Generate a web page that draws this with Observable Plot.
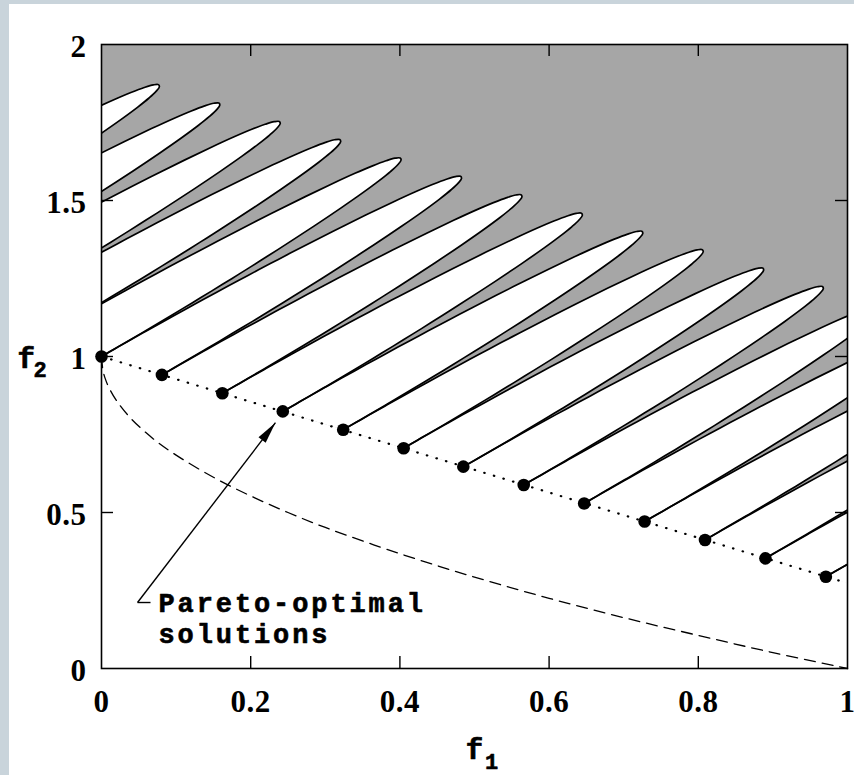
<!DOCTYPE html>
<html><head><meta charset="utf-8">
<script src="https://cdn.jsdelivr.net/npm/d3@7"></script>
<script src="https://cdn.jsdelivr.net/npm/@observablehq/plot@0.6"></script>
<style>
html,body{margin:0;padding:0;background:#c9d4db;width:854px;height:775px;overflow:hidden;}
#chart{position:absolute;left:9px;top:4px;width:845px;height:771px;background:#fff;}
#chart svg{background:#fff;}
g.annot text{letter-spacing:2.9px;}
g.ticklab text{letter-spacing:0.5px;}
</style></head><body><div id="chart"></div>
<script>
// Pareto-optimal points (black dots)
const paretoF1 = [0, 0.081, 0.162, 0.243, 0.324, 0.405, 0.485, 0.566, 0.647, 0.728, 0.809, 0.890, 0.971];
const paretoF2 = [1, 0.941, 0.882, 0.824, 0.765, 0.706, 0.647, 0.588, 0.529, 0.471, 0.412, 0.353, 0.294];
// dotted constraint boundary line
const boundaryF1 = [0, 1];
const boundaryF2 = [1, 0.2735];
// dashed (unconstrained) front
const frontF1 = [0, 0.002, 0.005, 0.01, 0.02, 0.04, 0.07, 0.1, 0.15, 0.2, 0.25, 0.3, 0.4, 0.5, 0.6, 0.7, 0.8, 0.9, 1.0];
const frontF2 = [1, 0.955, 0.929, 0.900, 0.859, 0.800, 0.735, 0.684, 0.613, 0.553, 0.500, 0.452, 0.368, 0.293, 0.225, 0.163, 0.106, 0.051, 0];
// base corners of the white (infeasible) lobes along the boundary line
const lobeStartF1 = [-0.405, -0.324, -0.243, -0.162, -0.081, 0, 0.081, 0.162, 0.243, 0.324, 0.405, 0.485, 0.566, 0.647, 0.728, 0.809, 0.890, 0.971];
const lobeStartF2 = [1.294, 1.235, 1.176, 1.118, 1.059, 1, 0.941, 0.882, 0.824, 0.765, 0.706, 0.647, 0.588, 0.529, 0.471, 0.412, 0.353, 0.294];
// outline of one lobe, relative to its base corner (all lobes are the same shape)
const lobeShapeDf1 = [0, 0.0175, 0.0351, 0.0557, 0.0789, 0.1121, 0.1376, 0.1691, 0.1957, 0.2263, 0.2532, 0.3092, 0.3542, 0.3910, 0.4208, 0.4444, 0.4623, 0.4745, 0.4813, 0.4826, 0.4784, 0.4687, 0.4532, 0.4314, 0.4027, 0.3658, 0.3179, 0.2943, 0.2669, 0.2427, 0.2137, 0.1897, 0.1582, 0.1358, 0.1156, 0.0983, 0.0809];
const lobeShapeDf2 = [0, 0.0240, 0.0480, 0.0758, 0.1069, 0.1508, 0.1843, 0.2251, 0.2592, 0.2979, 0.3314, 0.4001, 0.4534, 0.4955, 0.5281, 0.5521, 0.5682, 0.5766, 0.5774, 0.5707, 0.5564, 0.5345, 0.5046, 0.4661, 0.4182, 0.3589, 0.2844, 0.2485, 0.2074, 0.1716, 0.1290, 0.0944, 0.0493, 0.0175, -0.0106, -0.0347, -0.0588];
// annotation
const annotationText = "Pareto-optimal\nsolutions";
const arrowFromF1 = 0.0483, arrowFromF2 = 0.2115;
const arrowHookF1 = 0.0657;
const arrowToF1 = 0.2332, arrowToF2 = 0.788;
// ticks
const xTicks = [0, 0.2, 0.4, 0.6, 0.8, 1];
const xTickLabels = ["0", "0.2", "0.4", "0.6", "0.8", "1"];
const yTicks = [0, 0.5, 1, 1.5, 2];
const yTickLabels = ["0", "0.5", "1", "1.5", "2"];

const pareto = paretoF1.map((f1, i) => ({f1, f2: paretoF2[i]}));
const boundary = boundaryF1.map((f1, i) => ({f1, f2: boundaryF2[i]}));
const front = frontF1.map((f1, i) => ({f1, f2: frontF2[i]}));
const lobes = [];
lobeStartF1.forEach((s1, k) => {
  lobeShapeDf1.forEach((d1, j) => lobes.push({lobe: k, f1: s1 + d1, f2: lobeStartF2[k] + lobeShapeDf2[j]}));
});
const xt = xTicks.map((v, i) => ({v, label: xTickLabels[i]}));
const yt = yTicks.map((v, i) => ({v, label: yTickLabels[i]}));

const W = 845, H = 771, mL = 92, mR = 7, mT = 40, mB = 107;
const fw = W - mL - mR, fh = H - mT - mB, tick = 12;

const headAngle = 37.5 * Math.PI / 180;
const arrowHead = {
  draw(ctx) {
    const L = 22, w = 4.5;
    const bx = -Math.sin(headAngle) * L, by = Math.cos(headAngle) * L;
    const px = Math.cos(headAngle) * w, py = Math.sin(headAngle) * w;
    ctx.moveTo(0, 0);
    ctx.lineTo(bx + px, by + py);
    ctx.lineTo(bx - px, by - py);
    ctx.closePath();
  }
};

const serif = "Liberation Serif, Times New Roman, serif";
const mono = "Liberation Mono, Courier New, monospace";

const chart = Plot.plot({
  width: W, height: H,
  marginLeft: mL, marginRight: mR, marginTop: mT, marginBottom: mB,
  x: {domain: [0, 1], axis: null},
  y: {domain: [0, 2], axis: null},
  marks: [
    Plot.frame({fill: "#a6a6a6", stroke: "none"}),
    Plot.areaY(boundary, {x: "f1", y: "f2", fill: "white"}),
    Plot.line(lobes, {x: "f1", y: "f2", z: "lobe", fill: "white", stroke: "none", curve: "catmull-rom", clip: true}),
    Plot.line(lobes, {x: "f1", y: "f2", z: "lobe", fill: "none", stroke: "black", strokeWidth: 1.7, curve: "catmull-rom", clip: true}),
    Plot.line(boundary, {x: "f1", y: "f2", stroke: "black", strokeWidth: 2.2, strokeDasharray: "0.5,9.5", strokeLinecap: "round", clip: true}),
    Plot.line(front, {x: "f1", y: "f2", stroke: "black", strokeWidth: 1.3, strokeDasharray: "11,7", curve: "catmull-rom"}),
    Plot.dot(pareto, {x: "f1", y: "f2", r: 6.3, fill: "black", stroke: "none"}),
    Plot.link([{x1: arrowFromF1, y1: arrowFromF2, x2: arrowToF1, y2: arrowToF2}], {x1: "x1", y1: "y1", x2: "x2", y2: "y2", stroke: "black", strokeWidth: 1.4}),
    Plot.link([{x1: arrowFromF1, y1: arrowFromF2, x2: arrowHookF1, y2: arrowFromF2}], {x1: "x1", y1: "y1", x2: "x2", y2: "y2", stroke: "black", strokeWidth: 1.4}),
    Plot.dot([{f1: arrowToF1, f2: arrowToF2}], {x: "f1", y: "f2", symbol: arrowHead, r: 5, fill: "black", stroke: "none"}),
    Plot.text([annotationText], {x: 0.0764, y: 0.25, text: d => d, textAnchor: "start", lineAnchor: "top", lineHeight: 1.14, fontFamily: mono, fontWeight: "bold", fontSize: 27, fill: "black", stroke: "black", strokeWidth: 0.6, className: "annot"}),
    // ticks (inward, all four sides)
    Plot.tickX(xTicks.slice(1, -1), {x: d => d, insetTop: fh - tick, stroke: "black", strokeWidth: 1.4}),
    Plot.tickX(xTicks.slice(1, -1), {x: d => d, insetBottom: fh - tick, stroke: "black", strokeWidth: 1.4}),
    Plot.tickY(yTicks.slice(1, -1), {y: d => d, insetRight: fw - tick, stroke: "black", strokeWidth: 1.4}),
    Plot.tickY(yTicks.slice(1, -1), {y: d => d, insetLeft: fw - tick, stroke: "black", strokeWidth: 1.4}),
    Plot.frame({stroke: "black", strokeWidth: 1.6}),
    // tick labels
    Plot.text(xt, {x: "v", text: "label", frameAnchor: "bottom", dy: 34, lineAnchor: "middle", fontFamily: serif, fontWeight: "bold", fontSize: 31, fill: "black", className: "ticklab"}),
    Plot.text(yt, {y: "v", text: "label", frameAnchor: "left", dx: -15, dy: 3, textAnchor: "end", lineAnchor: "middle", fontFamily: serif, fontWeight: "bold", fontSize: 31, fill: "black", className: "ticklab"}),
    // axis labels
    Plot.text(["f"], {x: 0.5, frameAnchor: "bottom", dy: 81, text: d => d, lineAnchor: "middle", fontFamily: mono, fontWeight: "bold", fontSize: 29, fill: "black", stroke: "black", strokeWidth: 0.7}),
    Plot.text(["1"], {x: 0.5, frameAnchor: "bottom", dx: 17, dy: 93, text: d => d, lineAnchor: "middle", fontFamily: mono, fontWeight: "bold", fontSize: 22, fill: "black", stroke: "black", strokeWidth: 0.6}),
    Plot.text(["f"], {y: 1, frameAnchor: "left", dx: -84, dy: 2, text: d => d, lineAnchor: "middle", fontFamily: mono, fontWeight: "bold", fontSize: 29, fill: "black", stroke: "black", strokeWidth: 0.7}),
    Plot.text(["2"], {y: 1, frameAnchor: "left", dx: -68, dy: 13, text: d => d, lineAnchor: "middle", fontFamily: mono, fontWeight: "bold", fontSize: 22, fill: "black", stroke: "black", strokeWidth: 0.6})
  ]
});
document.getElementById("chart").appendChild(chart);
</script>
</body></html>
